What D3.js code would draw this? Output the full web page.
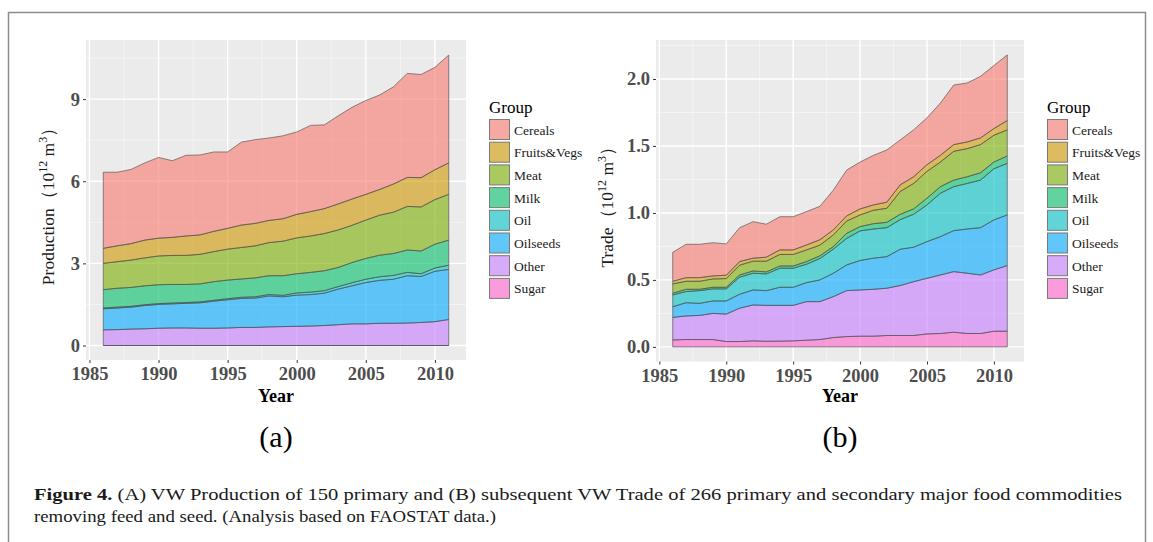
<!DOCTYPE html>
<html lang="en">
<head>
<meta charset="UTF-8">
<title>VW Production and Trade</title>
<style>
  body { margin: 0; background: #fff; }
  svg text { font-family: "Liberation Serif", "Times New Roman", serif; }
</style>
<script src="https://d3js.org/d3.v7.min.js"></script>
</head>
<body>
<svg id="fig" width="1153" height="542"></svg>
<script>
// ---- data (10^12 m3), years 1986-2011 ----
const years = [1986, 1987, 1988, 1989, 1990, 1991, 1992, 1993, 1994, 1995, 1996, 1997, 1998,
               1999, 2000, 2001, 2002, 2003, 2004, 2005, 2006, 2007, 2008, 2009, 2010, 2011];
const groups = ["Cereals", "Fruits&Vegs", "Meat", "Milk", "Oil", "Oilseeds", "Other", "Sugar"];
const groupColors = ["#F8766D", "#CD9600", "#7CAE00", "#00BE67", "#00BFC4", "#00A9FF", "#C77CFF", "#FF61CC"];

// (a) production
const prodCereals  = [2.78, 2.69, 2.71, 2.82, 2.95, 2.80, 2.95, 2.92, 2.90, 2.79, 3.03, 3.06, 3.01, 3.03, 3.01, 3.15, 3.06, 3.22, 3.35, 3.43, 3.45, 3.55, 3.80, 3.77, 3.74, 3.94];
const prodFruits   = [0.55, 0.58, 0.60, 0.65, 0.65, 0.66, 0.71, 0.71, 0.74, 0.76, 0.82, 0.82, 0.81, 0.82, 0.86, 0.89, 0.91, 0.95, 0.96, 0.94, 0.94, 1.03, 1.06, 1.07, 1.09, 1.15];
const prodMeat     = [0.96, 0.97, 1.00, 1.02, 1.05, 1.06, 1.06, 1.08, 1.10, 1.13, 1.15, 1.17, 1.21, 1.26, 1.31, 1.33, 1.36, 1.37, 1.36, 1.40, 1.46, 1.51, 1.59, 1.61, 1.63, 1.67];
const prodMilk     = [0.67, 0.69, 0.69, 0.69, 0.69, 0.68, 0.66, 0.66, 0.68, 0.68, 0.67, 0.69, 0.69, 0.72, 0.70, 0.72, 0.73, 0.70, 0.74, 0.76, 0.79, 0.80, 0.82, 0.83, 0.87, 0.92];
const prodOil      = [0.03, 0.03, 0.03, 0.03, 0.03, 0.03, 0.03, 0.03, 0.03, 0.04, 0.04, 0.05, 0.05, 0.05, 0.08, 0.09, 0.09, 0.09, 0.11, 0.12, 0.13, 0.14, 0.12, 0.10, 0.12, 0.15];
const prodOilseeds = [0.77, 0.79, 0.80, 0.85, 0.87, 0.88, 0.90, 0.93, 0.99, 1.03, 1.06, 1.07, 1.13, 1.09, 1.14, 1.15, 1.18, 1.30, 1.39, 1.51, 1.57, 1.61, 1.73, 1.68, 1.84, 1.83];
const prodOther    = [0.57, 0.58, 0.60, 0.61, 0.63, 0.64, 0.64, 0.63, 0.63, 0.64, 0.66, 0.66, 0.68, 0.69, 0.70, 0.71, 0.73, 0.76, 0.79, 0.79, 0.81, 0.81, 0.82, 0.84, 0.87, 0.95];
const prodSugar    = [0, 0, 0, 0, 0, 0, 0, 0, 0, 0, 0, 0, 0, 0, 0, 0, 0, 0, 0, 0, 0, 0, 0, 0, 0, 0];

// (b) trade
const tradeCereals  = [0.216, 0.249, 0.249, 0.248, 0.234, 0.253, 0.273, 0.246, 0.248, 0.248, 0.249, 0.250, 0.297, 0.342, 0.350, 0.370, 0.390, 0.335, 0.350, 0.350, 0.390, 0.445, 0.440, 0.460, 0.470, 0.490];
const tradeFruits   = [0.020, 0.027, 0.027, 0.023, 0.025, 0.027, 0.022, 0.030, 0.034, 0.034, 0.037, 0.040, 0.037, 0.038, 0.045, 0.040, 0.045, 0.050, 0.050, 0.050, 0.050, 0.050, 0.050, 0.050, 0.050, 0.070];
const tradeMeat     = [0.070, 0.060, 0.060, 0.062, 0.065, 0.073, 0.073, 0.080, 0.086, 0.086, 0.087, 0.080, 0.087, 0.092, 0.087, 0.100, 0.105, 0.170, 0.190, 0.200, 0.184, 0.215, 0.210, 0.210, 0.200, 0.195];
const tradeMilk     = [0.012, 0.017, 0.010, 0.012, 0.012, 0.017, 0.017, 0.015, 0.017, 0.017, 0.020, 0.020, 0.020, 0.038, 0.032, 0.040, 0.040, 0.040, 0.040, 0.050, 0.049, 0.049, 0.050, 0.055, 0.050, 0.055];
const tradeOil      = [0.088, 0.083, 0.095, 0.090, 0.090, 0.127, 0.125, 0.125, 0.142, 0.142, 0.137, 0.160, 0.179, 0.198, 0.221, 0.218, 0.216, 0.221, 0.246, 0.274, 0.324, 0.328, 0.340, 0.355, 0.382, 0.385];
const tradeOilseeds = [0.080, 0.099, 0.090, 0.093, 0.098, 0.104, 0.112, 0.110, 0.135, 0.135, 0.142, 0.162, 0.175, 0.192, 0.220, 0.232, 0.236, 0.271, 0.257, 0.274, 0.286, 0.306, 0.330, 0.353, 0.373, 0.378];
const tradeOther    = [0.168, 0.176, 0.180, 0.195, 0.205, 0.249, 0.268, 0.268, 0.267, 0.265, 0.288, 0.283, 0.305, 0.343, 0.345, 0.350, 0.353, 0.373, 0.402, 0.415, 0.437, 0.452, 0.450, 0.437, 0.458, 0.490];
const tradeSugar    = [0.052, 0.055, 0.055, 0.055, 0.040, 0.040, 0.045, 0.042, 0.043, 0.045, 0.050, 0.055, 0.070, 0.077, 0.080, 0.080, 0.085, 0.085, 0.085, 0.097, 0.100, 0.110, 0.100, 0.100, 0.117, 0.117];

const xTicks = [1985, 1990, 1995, 2000, 2005, 2010];
const prodTicks = [0, 3, 6, 9];
const tradeTicks = [0, 0.5, 1.0, 1.5, 2.0];

const svg = d3.select("#fig");

// outer frame of the figure
svg.append("rect")
    .attr("x", 8.5).attr("y", 12.5)
    .attr("width", 1137).attr("height", 600)
    .attr("fill", "none").attr("stroke", "#8c8c8c").attr("stroke-width", 1.5);

function buildRows(series) {
    return years.map((yr, i) => {
        const row = { year: yr };
        groups.forEach((g, k) => row[g] = series[k][i]);
        return row;
    });
}

function drawPanel(opt) {
    const g = svg.append("g");
    const x = d3.scaleLinear().domain([1984.75, 2012.25]).range([opt.left, opt.right]);
    const y = d3.scaleLinear().domain(opt.yDomain).range([opt.bottom, opt.top]);

    g.append("rect")
        .attr("x", opt.left).attr("y", opt.top)
        .attr("width", opt.right - opt.left).attr("height", opt.bottom - opt.top)
        .attr("fill", "#EBEBEB");

    // minor grid
    const xMinor = [1987.5, 1992.5, 1997.5, 2002.5, 2007.5];
    g.selectAll(".xminor").data(xMinor).enter().append("line")
        .attr("x1", d => x(d)).attr("x2", d => x(d))
        .attr("y1", opt.top).attr("y2", opt.bottom)
        .attr("stroke", "#F6F6F6").attr("stroke-width", 0.8);
    g.selectAll(".yminor").data(opt.yMinor).enter().append("line")
        .attr("x1", opt.left).attr("x2", opt.right)
        .attr("y1", d => y(d)).attr("y2", d => y(d))
        .attr("stroke", "#F6F6F6").attr("stroke-width", 0.8);
    // major grid
    g.selectAll(".xmajor").data(xTicks).enter().append("line")
        .attr("x1", d => x(d)).attr("x2", d => x(d))
        .attr("y1", opt.top).attr("y2", opt.bottom)
        .attr("stroke", "#fff").attr("stroke-width", 1.4);
    g.selectAll(".ymajor").data(opt.yTicks).enter().append("line")
        .attr("x1", opt.left).attr("x2", opt.right)
        .attr("y1", d => y(d)).attr("y2", d => y(d))
        .attr("stroke", "#fff").attr("stroke-width", 1.4);

    // stacked areas, Sugar at the bottom, Cereals on top
    const rows = buildRows(opt.series);
    const stack = d3.stack().keys(groups.slice().reverse());
    const layers = stack(rows);
    const area = d3.area()
        .x(d => x(d.data.year))
        .y0(d => y(d[0]))
        .y1(d => y(d[1]));
    g.selectAll(".layer").data(layers).enter().append("path")
        .attr("d", area)
        .attr("fill", d => groupColors[groups.indexOf(d.key)])
        .attr("fill-opacity", 0.6)
        .attr("stroke", "#4d4d4d")
        .attr("stroke-opacity", 0.8)
        .attr("stroke-width", 0.8);

    // axes
    const xAxis = d3.axisBottom(x).tickValues(xTicks).tickFormat(d3.format("d")).tickSize(3).tickPadding(4);
    const yAxis = d3.axisLeft(y).tickValues(opt.yTicks).tickFormat(opt.fmt).tickSize(3).tickPadding(3);
    const gx = g.append("g").attr("transform", `translate(0,${opt.bottom})`).call(xAxis);
    const gy = g.append("g").attr("transform", `translate(${opt.left},0)`).call(yAxis);
    [gx, gy].forEach(a => {
        a.select(".domain").remove();
        a.selectAll(".tick line").attr("stroke", "#333").attr("stroke-width", 1);
        a.selectAll(".tick text")
            .attr("fill", "#4D4D4D")
            .style("font-family", "'Liberation Serif', serif")
            .style("font-weight", "bold")
            .style("font-size", "18.5px");
    });

    // axis titles
    const cx = (opt.left + opt.right) / 2;
    g.append("text")
        .attr("x", cx).attr("y", 402)
        .attr("text-anchor", "middle")
        .style("font-weight", "bold").style("font-size", "18px")
        .text("Year");

    const yt = g.append("text")
        .attr("transform", `translate(${opt.yTitleX},${(opt.top + opt.bottom) / 2 + 2}) rotate(-90)`)
        .attr("text-anchor", "middle")
        .style("font-size", "17.5px").attr("fill", "#1a1a1a");
    yt.append("tspan").text(opt.yTitle + "（10");
    yt.append("tspan").attr("dy", -7).style("font-size", "12px").text("12");
    yt.append("tspan").attr("dy", 7).text(" m");
    yt.append("tspan").attr("dy", -7).style("font-size", "12px").text("3");
    yt.append("tspan").attr("dy", 7).text("）");

    // panel letter
    g.append("text")
        .attr("x", cx).attr("y", 447)
        .attr("text-anchor", "middle")
        .style("font-size", "30px")
        .text(opt.letter);

    // legend
    const lg = g.append("g").attr("transform", `translate(${opt.legendX},0)`);
    lg.append("text").attr("x", 0).attr("y", 113)
        .style("font-size", "17px").text("Group");
    const item = lg.selectAll(".key").data(groups).enter().append("g")
        .attr("transform", (d, i) => `translate(0,${119 + i * 22.7})`);
    item.append("rect")
        .attr("width", 21).attr("height", 21)
        .attr("fill", "#F2F2F2");
    item.append("rect")
        .attr("x", 0.5).attr("y", 0.5)
        .attr("width", 20).attr("height", 20)
        .attr("fill", (d, i) => groupColors[i]).attr("fill-opacity", 0.6)
        .attr("stroke", "#7a7a7a").attr("stroke-width", 1);
    item.append("text")
        .attr("x", 25).attr("y", 15.5)
        .style("font-size", "13.5px").attr("fill", "#1a1a1a")
        .text(d => d);
}

drawPanel({
    left: 86, right: 466, top: 40, bottom: 360,
    yDomain: [-0.53, 11.16],
    yTicks: prodTicks, yMinor: [1.5, 4.5, 7.5, 10.5],
    fmt: d3.format("d"),
    series: [prodCereals, prodFruits, prodMeat, prodMilk, prodOil, prodOilseeds, prodOther, prodSugar],
    yTitle: "Production", yTitleX: 54,
    letter: "(a)", legendX: 489
});

drawPanel({
    left: 656, right: 1024, top: 40, bottom: 361.5,
    yDomain: [-0.109, 2.291],
    yTicks: tradeTicks, yMinor: [0.25, 0.75, 1.25, 1.75, 2.25],
    fmt: d3.format(".1f"),
    series: [tradeCereals, tradeFruits, tradeMeat, tradeMilk, tradeOil, tradeOilseeds, tradeOther, tradeSugar],
    yTitle: "Trade", yTitleX: 613,
    letter: "(b)", legendX: 1047
});

// caption
const cap1 = svg.append("text").attr("x", 34).attr("y", 500).style("font-size", "17.5px").attr("fill", "#1a1a1a");
cap1.append("tspan").style("font-weight", "bold").text("Figure 4. ");
cap1.append("tspan").text("(A) VW Production of 150 primary and (B) subsequent VW Trade of 266 primary and secondary major food commodities");
cap1.attr("textLength", 1088).attr("lengthAdjust", "spacingAndGlyphs");

svg.append("text").attr("x", 34).attr("y", 522).style("font-size", "17.5px").attr("fill", "#1a1a1a")
    .attr("textLength", 462).attr("lengthAdjust", "spacingAndGlyphs")
    .text("removing feed and seed. (Analysis based on FAOSTAT data.)");
</script>
</body>
</html>
